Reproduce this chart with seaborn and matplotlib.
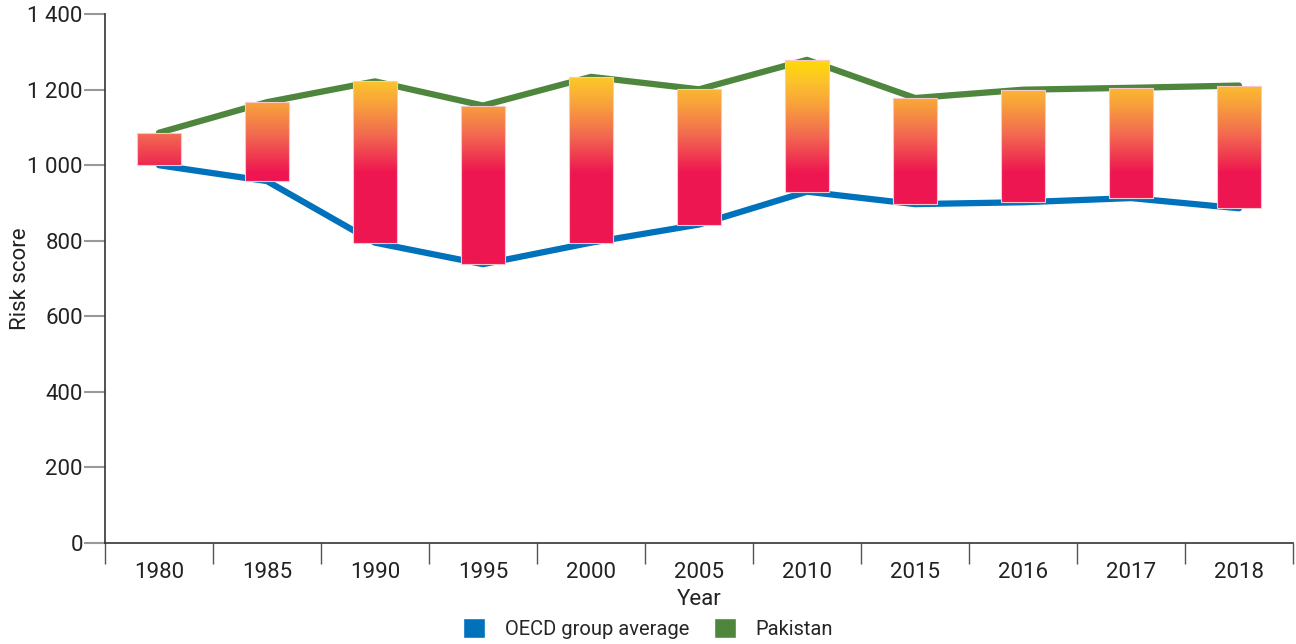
import numpy as np
import pandas as pd
import matplotlib
matplotlib.use('Agg')
import matplotlib.pyplot as plt
import seaborn as sns
from matplotlib.colors import LinearSegmentedColormap
from matplotlib.patches import Patch
from matplotlib.ticker import FuncFormatter

years = ['1980', '1985', '1990', '1995', '2000', '2005', '2010', '2015', '2016', '2017', '2018']
oecd = [1000, 958, 795, 738, 795, 843, 930, 897, 902, 913, 886]
pakistan = [1086, 1167, 1222, 1158, 1234, 1201, 1279, 1178, 1200, 1205, 1211]

sns.set_style('white')
plt.rcParams['font.family'] = ['Roboto', 'DejaVu Sans']

blue = '#0072BC'
green = '#4E863E'

df = pd.DataFrame({'pos': np.arange(len(years)), 'OECD group average': oecd, 'Pakistan': pakistan})

fig = plt.figure(figsize=(12.96, 6.44), dpi=100)
ax = fig.add_axes([0.081, 0.157, 0.9167, 0.821])

sns.lineplot(data=df, x='pos', y='OECD group average', color=blue, linewidth=4.5, ax=ax, zorder=2)
sns.lineplot(data=df, x='pos', y='Pakistan', color=green, linewidth=4.5, ax=ax, zorder=2)

# gradient bars between the two series
cmap = LinearSegmentedColormap.from_list('heat', [
    (0.0, '#EE1651'), (0.33, '#F26A50'), (0.6, '#F8A23B'), (0.8, '#FCC42B'), (1.0, '#FFDD00')])
lo_c, hi_c = 980, 1285
grad_y = np.linspace(0, 1400, 1400)
grad = np.clip((grad_y - lo_c) / (hi_c - lo_c), 0, 1).reshape(-1, 1)

bars = ax.bar(df['pos'], np.array(pakistan) - np.array(oecd), bottom=oecd, width=0.4,
              facecolor='none', edgecolor='#F9C6CE', linewidth=0.8, zorder=4)
for b in bars:
    im = ax.imshow(grad, cmap=cmap, vmin=0, vmax=1, origin='lower', aspect='auto',
                   extent=(-0.5, len(years) - 0.5, 0, 1400), zorder=3, interpolation='bilinear')
    im.set_clip_path(b)

ax.set_xlim(-0.5, len(years) - 0.5)
ax.set_ylim(0, 1400)
ax.set_yticks(range(0, 1401, 200))
ax.yaxis.set_major_formatter(FuncFormatter(lambda v, p: f'{int(v):,}'.replace(',', ' ')))
ax.set_xticks(df['pos'])
ax.set_xticklabels(years)
ax.set_xticks(np.arange(-0.5, len(years), 1), minor=True)
ax.tick_params(axis='x', which='major', bottom=True, length=0, labelsize=16, pad=14, labelcolor='#222222')
ax.tick_params(axis='x', which='minor', bottom=True, length=15, width=1, color='#555555', direction='out')
ax.tick_params(axis='y', left=True, length=15, width=1.5, color='#999999', labelsize=16, pad=1,
               labelcolor='#222222')

for s in ['top', 'right']:
    ax.spines[s].set_visible(False)
for s in ['left', 'bottom']:
    ax.spines[s].set_color('#333333')
    ax.spines[s].set_linewidth(1.2)

ax.set_xlabel('Year', fontsize=16, color='#222222', labelpad=4)
ax.set_ylabel('Risk score', fontsize=16, color='#222222')
ax.yaxis.set_label_coords(-0.062, 0.5)

handles = [Patch(facecolor=blue, label='OECD group average'), Patch(facecolor=green, label='Pakistan')]
fig.legend(handles=handles, loc='lower center', bbox_to_anchor=(0.5, -0.02), ncol=2, frameon=False,
           fontsize=14.5, handlelength=1.1, handleheight=1.1, handletextpad=1.0, columnspacing=1.2)

fig.savefig('out.png', dpi=100)
